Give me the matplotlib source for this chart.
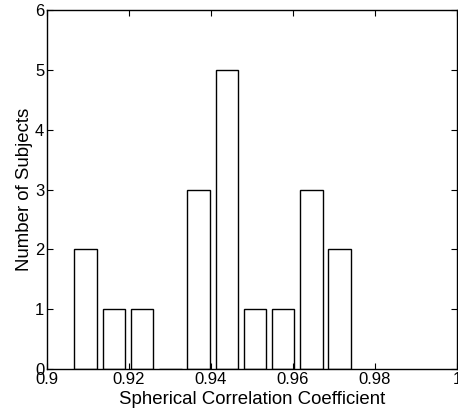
import matplotlib
matplotlib.use("Agg")
from matplotlib import pyplot as plt

# histogram of per-subject spherical correlation coefficients
bin_centers = [0.9094, 0.9163, 0.9232, 0.9301, 0.9370, 0.9439, 0.9507, 0.9576, 0.9645, 0.9714]
counts = [2, 1, 1, 0, 3, 5, 1, 1, 3, 2]
xticks = [0.9, 0.92, 0.94, 0.96, 0.98, 1.0]
xtick_labels = ["0.9", "0.92", "0.94", "0.96", "0.98", "1"]
yticks = [0, 1, 2, 3, 4, 5, 6]

plt.rcParams['font.family'] = ['Liberation Sans', 'DejaVu Sans']

fig = plt.figure(figsize=(4.58, 4.15), dpi=100)
ax = fig.add_axes([0.1026, 0.1108, 0.895, 0.865])

ax.bar(bin_centers, counts, width=0.0055, color='white', edgecolor='black', linewidth=1.0)

ax.set_xlim(0.9, 1.0)
ax.set_ylim(0, 6)
ax.set_xticks(xticks)
ax.set_xticklabels(xtick_labels)
ax.set_yticks(yticks)
ax.tick_params(direction='in', top=True, right=True, length=4, width=0.8,
               labelsize=12, pad=2)
for s in ax.spines.values():
    s.set_linewidth(1.0)

ax.set_xlabel("Spherical Correlation Coefficient", fontsize=13.4, labelpad=3)
ax.set_ylabel("Number of Subjects", fontsize=13.4, labelpad=1)

fig.savefig("out.png", dpi=100)
